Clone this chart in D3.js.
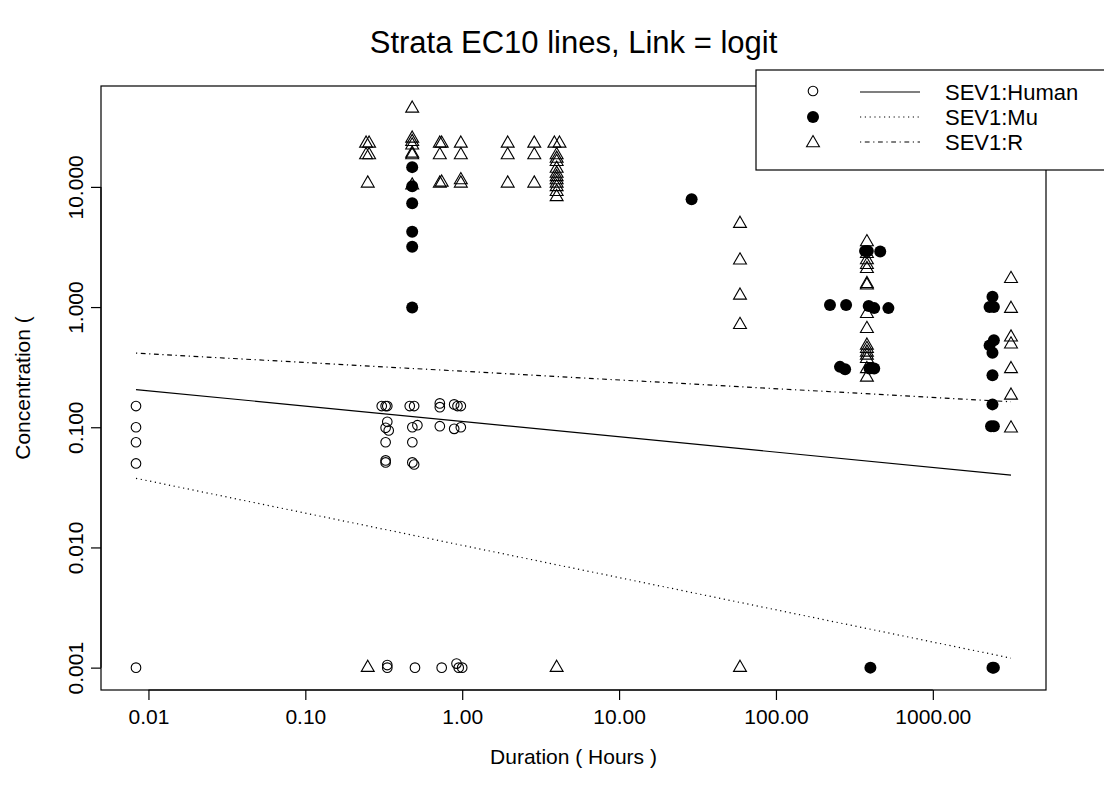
<!DOCTYPE html>
<html>
<head>
<meta charset="utf-8">
<script src="https://cdn.jsdelivr.net/npm/d3@7"></script>
<style>
  html, body { margin: 0; padding: 0; background: #fff; }
  svg { display: block; font-family: "Liberation Sans", Arial, Helvetica, sans-serif; }
</style>
</head>
<body>
<svg id="chart" width="1104" height="796"></svg>
<script>
// ---------- data (Duration in hours, Concentration) ----------
const humanDur  = [0.00833,0.00833,0.00833,0.00833,0.00833,
  0.307,0.325,0.333,0.333,0.34,0.325,0.325,0.325,0.325,0.333,0.333,
  0.463,0.494,0.481,0.518,0.481,0.481,0.494,0.50,
  0.72,0.72,0.72,0.74,
  0.889,0.933,0.98,0.889,0.98,0.92,0.95,1.0];
const humanConc = [0.15,0.10,0.075,0.05,0.001,
  0.15,0.15,0.15,0.111,0.094,0.099,0.075,0.053,0.051,0.001,0.00105,
  0.15,0.15,0.10,0.104,0.075,0.051,0.049,0.001,
  0.158,0.147,0.102,0.001,
  0.155,0.15,0.15,0.097,0.10,0.00108,0.001,0.001];

const muDur  = [0.48,0.48,0.48,0.48,0.48,0.48,
  29,
  370,385,462,
  221,280,390,423,521,
  256,276,395,423,
  400,
  2400,2450,2300,2450,2300,2400,2400,2400,2350,2450,2400,2450];
const muConc = [14.6,10.1,7.3,4.24,3.18,0.99,
  7.9,
  2.93,2.93,2.9,
  1.04,1.04,1.02,0.98,0.98,
  0.318,0.304,0.308,0.308,
  0.001,
  1.22,1.0,1.0,0.53,0.48,0.416,0.271,0.155,0.102,0.102,0.001,0.001];

const rDur  = [0.244,0.255,0.244,0.255,0.25,0.25,
  0.48,0.48,0.48,0.48,0.48,0.48,0.48,
  0.72,0.74,0.72,0.72,0.74,
  0.98,0.98,0.98,0.98,
  1.95,1.95,1.95,
  2.88,2.88,2.88,
  3.87,4.17,4.0,4.0,4.0,4.0,4.0,4.0,4.0,4.0,4.0,4.0,4.0,4.0,
  59,59,59,59,59,
  380,380,380,380,380,380,380,380,380,380,380,380,380,380,380,380,
  3150,3150,3150,3150,3150,3150,3150];
const rConc = [23,23,18.4,18.4,10.7,0.001,
  45,25.3,23.7,22.2,19.0,18.4,10.3,
  23,23,18.4,10.7,10.9,
  23,18.4,11.4,10.7,
  23,18.4,10.7,
  23,18.4,10.7,
  23,23,18.4,17.2,16.2,14.2,12.9,12.1,11.4,10.7,10.0,9.1,8.25,0.001,
  4.94,2.45,1.25,0.712,0.001,
  3.48,2.78,2.46,2.25,2.08,1.56,1.52,0.88,0.66,0.48,0.45,0.42,0.396,0.371,0.306,0.26,0.184,
  1.72,0.97,0.56,0.49,0.306,0.098,0.001];

// fitted EC10 lines (endpoints)
const lineDur   = [0.00833, 3150];
const humanLine = [0.206, 0.040];
const muLine    = [0.0376, 0.0012];
const rLine     = [0.414, 0.163];

const xTicks = [0.01, 0.1, 1, 10, 100, 1000];
const xTickLabels = ["0.01","0.10","1.00","10.00","100.00","1000.00"];
const yTicks = [0.001, 0.01, 0.1, 1, 10];
const yTickLabels = ["0.001","0.010","0.100","1.000","10.000"];

const seriesNames = ["SEV1:Human","SEV1:Mu","SEV1:R"];

// ---------- layout ----------
const svg = d3.select("#chart");
const L = 101, R = 1046, T = 86, B = 690;
const FONT = "Liberation Sans, Arial, sans-serif";

function extLog(vals) {
  const lo = Math.log10(d3.min(vals)), hi = Math.log10(d3.max(vals));
  const e = (hi - lo) * 0.04;
  return [Math.pow(10, lo - e), Math.pow(10, hi + e)];
}
const allX = humanDur.concat(muDur, rDur, lineDur);
const allY = humanConc.concat(muConc, rConc);
const x = d3.scaleLog().domain(extLog(allX)).range([L, R]);
const y = d3.scaleLog().domain(extLog(allY)).range([B, T]);

// title
svg.append("text").attr("x", (L + R) / 2).attr("y", 53)
  .attr("text-anchor", "middle").attr("font-size", 31).text("Strata EC10 lines, Link = logit");

// box
svg.append("rect").attr("x", L).attr("y", T).attr("width", R - L).attr("height", B - T)
  .attr("fill", "none").attr("stroke", "#000").attr("stroke-width", 1.2);

// x axis
const xa = svg.append("g").attr("transform", `translate(0,${B})`)
  .call(d3.axisBottom(x).tickValues(xTicks).tickSize(10).tickPadding(9)
    .tickFormat((d, i) => xTickLabels[i]));
xa.select(".domain").attr("d", `M${x(xTicks[0])},0H${x(xTicks[xTicks.length-1])}`).attr("stroke-width", 1.2);
xa.selectAll(".tick line").attr("stroke-width", 1.2);
xa.selectAll("text").attr("font-size", 21).attr("font-family", FONT).attr("fill", "#000");

// y axis
const ya = svg.append("g").attr("transform", `translate(${L},0)`)
  .call(d3.axisLeft(y).tickValues(yTicks).tickSize(10).tickFormat((d, i) => yTickLabels[i]));
ya.select(".domain").attr("d", `M0,${y(yTicks[0])}V${y(yTicks[yTicks.length-1])}`).attr("stroke-width", 1.2);
ya.selectAll(".tick line").attr("stroke-width", 1.2);
ya.selectAll(".tick text")
  .attr("font-size", 21).attr("font-family", FONT).attr("fill", "#000")
  .attr("x", null).attr("dy", null)
  .attr("text-anchor", "middle")
  .attr("transform", "translate(-18,0) rotate(-90)");

// axis titles
svg.append("text").attr("x", (L + R) / 2).attr("y", 764).attr("text-anchor", "middle")
  .attr("font-size", 21).text("Duration ( Hours )");
svg.append("text").attr("transform", `translate(30,${(T + B) / 2}) rotate(-90)`)
  .attr("text-anchor", "middle").attr("font-size", 21).text("Concentration (");

// clip for plot
svg.append("clipPath").attr("id", "clip").append("rect")
  .attr("x", L).attr("y", T).attr("width", R - L).attr("height", B - T);
const plot = svg.append("g").attr("clip-path", "url(#clip)");

// lines
const lineGen = d3.line().x(d => x(d[0])).y(d => y(d[1]));
const dashes = ["", "1.2 3.6", "1.2 3.6 4.8 3.6"];
[humanLine, muLine, rLine].forEach((ln, k) => {
  plot.append("path").datum(lineDur.map((d, i) => [d, ln[i]]))
    .attr("d", lineGen).attr("fill", "none").attr("stroke", "#000").attr("stroke-width", 1.2)
    .attr("stroke-dasharray", dashes[k] || null);
});

// symbols
const RAD = 4.8;
function triPath(cx, cy, r0) {
  const r = 1.5551 * r0, xc = r * Math.sqrt(3) / 2, yc = r / 2;
  return `M${cx},${cy - r}L${cx + xc},${cy + yc}L${cx - xc},${cy + yc}Z`;
}
function drawOpen(g, cx, cy) {
  g.append("circle").attr("cx", cx).attr("cy", cy).attr("r", RAD)
    .attr("fill", "none").attr("stroke", "#000").attr("stroke-width", 1.1);
}
function drawFilled(g, cx, cy) {
  g.append("circle").attr("cx", cx).attr("cy", cy).attr("r", RAD + 1.2).attr("fill", "#000");
}
function drawTri(g, cx, cy) {
  g.append("path").attr("d", triPath(cx, cy, RAD)).attr("fill", "none")
    .attr("stroke", "#000").attr("stroke-width", 1.1);
}
humanDur.forEach((d, i) => drawOpen(plot, x(d), y(humanConc[i])));
muDur.forEach((d, i) => drawFilled(plot, x(d), y(muConc[i])));
rDur.forEach((d, i) => drawTri(plot, x(d), y(rConc[i])));

// legend
const lg = svg.append("g");
lg.append("rect").attr("x", 756).attr("y", 70).attr("width", 360).attr("height", 100)
  .attr("fill", "#fff").attr("stroke", "#000").attr("stroke-width", 1.2);
const rowsY = [92, 117, 142];
seriesNames.forEach((nm, k) => {
  const cy = rowsY[k];
  if (k === 0) drawOpen(lg, 813, cy - 1);
  if (k === 1) drawFilled(lg, 813, cy);
  if (k === 2) drawTri(lg, 813, cy + 1);
  lg.append("line").attr("x1", 860).attr("x2", 920).attr("y1", cy).attr("y2", cy)
    .attr("stroke", "#000").attr("stroke-width", 1.2).attr("stroke-dasharray", dashes[k] || null);
  lg.append("text").attr("x", 945).attr("y", cy + 8).attr("font-size", 22).text(nm);
});
</script>
</body>
</html>
